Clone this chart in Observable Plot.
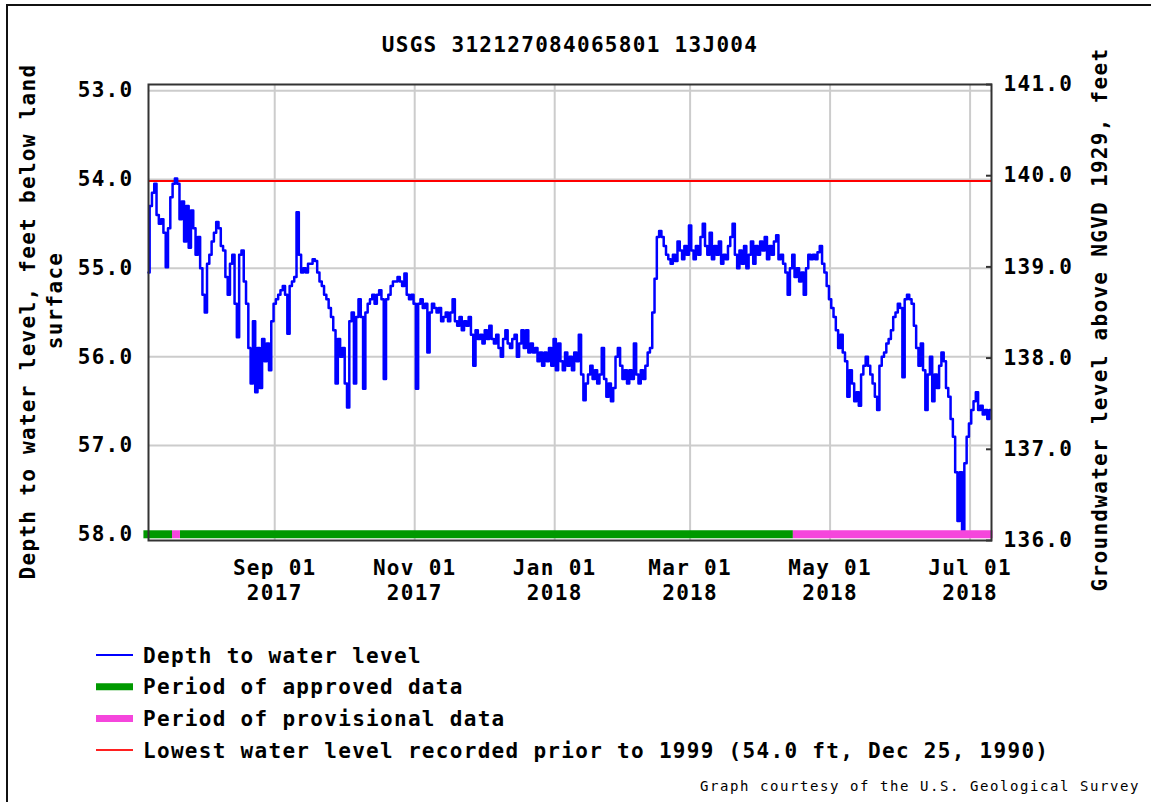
<!DOCTYPE html>
<html>
<head>
<meta charset="utf-8">
<script src="https://cdn.jsdelivr.net/npm/d3@7"></script>
<script src="https://cdn.jsdelivr.net/npm/@observablehq/plot@0.6"></script>
<style>
  html, body { margin: 0; padding: 0; background: #fff; }
  #wrap { position: relative; width: 1151px; height: 802px; overflow: hidden; background: #fff; }
  #wrap svg { display: block; position: absolute; left: 0; top: 0; }
  #border { position: absolute; left: 6px; top: 4px; right: -10px; bottom: -10px;
            border-left: 2px solid #111; border-top: 2px solid #111; pointer-events: none; }
  svg text { font-family: "DejaVu Sans Mono", monospace; }
</style>
</head>
<body>
<div id="wrap"><div id="border"></div></div>
<script>
// ---------------- DATA ----------------
const chartTitle = "USGS 312127084065801 13J004";
const leftTitle1 = "Depth to water level, feet below land";
const leftTitle2 = "surface";
const rightTitle = "Groundwater level above NGVD 1929, feet";
const caption = "Graph courtesy of the U.S. Geological Survey";

// Daily depth to water level (feet below land surface), one array per month
const jul2017 = [55.05,54.3,54.15,54.05,54.4,54.5,54.45,54.6,54.99,54.55,54.2,54.05,53.99,54.05,54.45,54.25,54.7,54.3,54.77,54.35,54.55,54.85,54.65,55.0]; // from Jul 08
const aug2017 = [55.3,55.5,54.95,54.85,54.7,54.6,54.48,54.55,54.75,54.8,55.1,55.3,54.95,54.85,55.4,55.78,54.85,54.8,55.15,55.4,55.9,56.3,55.6,56.4,55.9,56.35,55.8,56.05,55.85,56.15,55.6];
const sep2017 = [55.4,55.35,55.3,55.25,55.2,55.3,55.74,55.2,55.15,55.1,54.37,54.85,55.05,55.0,55.05,54.95,54.95,54.9,54.92,55.05,55.15,55.2,55.3,55.35,55.45,55.55,55.7,56.3,55.8,56.0];
const oct2017 = [55.9,56.3,56.57,55.6,55.5,56.3,55.55,55.35,55.55,56.36,55.5,55.4,55.35,55.3,55.4,55.3,55.25,55.35,56.25,55.35,55.3,55.2,55.15,55.15,55.1,55.15,55.2,55.06,55.3,55.35,55.3];
const nov2017 = [55.4,56.36,55.4,55.35,55.45,55.4,55.95,55.5,55.4,55.45,55.5,55.45,55.6,55.55,55.5,55.6,55.5,55.35,55.6,55.65,55.55,55.7,55.6,55.65,55.55,55.75,56.1,55.7,55.8,55.75];
const dec2017 = [55.85,55.7,55.8,55.65,55.8,55.85,55.75,55.9,56.0,55.8,55.7,55.85,55.9,55.8,55.75,56.0,55.85,55.7,55.9,55.7,55.95,55.85,55.95,55.9,56.05,55.95,56.1,55.95,56.05,55.9,56.1];
const jan2018 = [55.8,56.15,55.85,56.05,56.15,55.95,56.1,56.0,56.15,55.95,56.05,55.75,56.2,56.49,56.3,56.2,56.1,56.25,56.15,56.3,56.2,55.9,56.25,56.45,56.3,56.5,56.35,56.0,55.9,56.1,56.25];
const feb2018 = [56.15,56.3,56.15,56.25,55.85,56.2,56.3,56.15,56.25,56.1,55.95,55.9,55.5,55.12,54.65,54.58,54.65,54.75,54.85,54.9,54.95,54.85,54.92,54.7,54.8,54.9,54.75,54.85];
const mar2018 = [54.52,54.8,54.9,54.75,54.85,54.65,54.5,54.75,54.85,54.6,54.9,54.75,54.85,54.7,54.95,54.85,54.9,54.75,54.65,54.5,54.85,55.0,54.8,54.95,54.75,55.0,54.85,54.7,54.95,54.75,54.85];
const apr2018 = [54.7,54.8,54.65,54.9,54.75,54.85,54.7,54.63,54.9,54.85,54.95,55.05,55.3,55.0,54.85,55.1,55.0,55.15,55.05,55.3,55.0,54.85,54.9,54.85,54.9,54.82,54.75,54.95,55.05,55.2];
const may2018 = [55.35,55.45,55.55,55.7,55.9,55.75,55.95,56.05,56.45,56.15,56.3,56.5,56.4,56.55,56.2,56.1,56.0,56.1,56.2,56.3,56.45,56.6,56.1,56.0,55.95,55.85,55.8,55.7,55.55,55.5,55.4];
const jun2018 = [55.45,56.23,55.35,55.3,55.35,55.4,55.65,55.9,56.1,55.85,56.15,56.6,56.2,56.0,56.5,56.2,56.35,56.1,55.95,56.05,56.35,56.45,56.7,56.9,57.3,57.85,57.3,57.96,57.2,56.9];
const jul2018 = [56.75,56.6,56.5,56.4,56.6,56.55,56.65,56.6,56.7,56.6];

const monthStarts = ["2017-07-08","2017-08-01","2017-09-01","2017-10-01","2017-11-01","2017-12-01",
                     "2018-01-01","2018-02-01","2018-03-01","2018-04-01","2018-05-01","2018-06-01","2018-07-01"];
const monthValues = [jul2017,aug2017,sep2017,oct2017,nov2017,dec2017,jan2018,feb2018,mar2018,apr2018,may2018,jun2018,jul2018];

const approvedPeriods = [
  {start: "2017-07-06", end: "2017-07-18T11:00Z"},
  {start: "2017-07-21T22:00Z", end: "2018-04-15"}
];
const provisionalPeriods = [
  {start: "2017-07-18T11:00Z", end: "2017-07-21T22:00Z"},
  {start: "2018-04-15", end: "2018-07-11"}
];
const lowestPrior1999 = 54.0;

const xDomain = ["2017-07-08", "2018-07-10T08:00Z"];
const xTicks = ["2017-09-01","2017-11-01","2018-01-01","2018-03-01","2018-05-01","2018-07-01"];
const yDomain = [52.93, 58.07];
const leftTicks = [53, 54, 55, 56, 57, 58];
const rightTicks = [141, 140, 139, 138, 137, 136];

const legendItems = [
  {label: "Depth to water level", color: "#0000ff", width: 2},
  {label: "Period of approved data", color: "#009900", width: 7},
  {label: "Period of provisional data", color: "#f546dc", width: 7},
  {label: "Lowest water level recorded prior to 1999 (54.0 ft, Dec 25, 1990)", color: "#ff2020", width: 2}
];

// ---------------- BUILD ----------------
const series = monthStarts.flatMap((s, m) =>
  monthValues[m].map((v, i) => ({date: d3.utcDay.offset(new Date(s), i), depth: v})));
const toDate = p => ({start: new Date(p.start), end: new Date(p.end)});
const approved = approvedPeriods.map(toDate);
const provisional = provisionalPeriods.map(toDate);

// right axis spans the frame: top = 141, bottom = 136
const rTop = rightTicks[0], rBot = rightTicks[rightTicks.length - 1];
const rightToDepth = r => yDomain[0] + (rTop - r) * (yDomain[1] - yDomain[0]) / (rTop - rBot);
const depthToRight = d => rTop - (d - yDomain[0]) * (rTop - rBot) / (yDomain[1] - yDomain[0]);
const rightDepths = rightTicks.map(rightToDepth);
const bottomLevel = leftTicks[leftTicks.length - 1];

const legendMark = () => {
  const g = d3.create("svg:g").attr("text-anchor", "start");
  legendItems.forEach((it, i) => {
    const y = 655 + i * 31.7;
    g.append("line").attr("x1", 96).attr("x2", 133).attr("y1", y).attr("y2", y)
      .attr("stroke", it.color).attr("stroke-width", it.width);
    g.append("text").attr("x", 143).attr("y", y).attr("dy", "0.36em")
      .attr("text-anchor", "start").text(it.label);
  });
  g.append("text").attr("x", 700).attr("y", 786).attr("dy", "0.36em").attr("text-anchor", "start")
    .attr("font-size", 14).attr("font-weight", "normal").attr("letter-spacing", "1.57px")
    .text(caption);
  return g.node();
};

const chart = Plot.plot({
  width: 1151,
  height: 802,
  marginLeft: 148,
  marginRight: 160,
  marginTop: 84,
  marginBottom: 262,
  style: {fontFamily: "'DejaVu Sans Mono', monospace", fontSize: "21px", fontWeight: "bold",
          letterSpacing: "1.3px", background: "transparent", color: "#000", overflow: "visible"},
  x: {type: "utc", domain: xDomain.map(d => new Date(d)), label: null},
  y: {domain: yDomain, reverse: true, label: null},
  marks: [
    Plot.gridX(xTicks.map(d => new Date(d)), {stroke: "#cccccc", strokeOpacity: 1, strokeWidth: 2}),
    Plot.gridY(leftTicks, {stroke: "#cccccc", strokeOpacity: 1, strokeWidth: 2}),
    Plot.ruleY([lowestPrior1999], {stroke: "#ff0000", strokeWidth: 2, dy: 1.5}),
    Plot.line(series, {x: "date", y: "depth", stroke: "#0000ff", strokeWidth: 2.5, curve: "step"}),
    Plot.ruleY(approved, {y: () => bottomLevel, x1: "start", x2: "end", stroke: "#009900", strokeWidth: 8}),
    Plot.ruleY(provisional, {y: () => bottomLevel, x1: "start", x2: "end", stroke: "#f546dc", strokeWidth: 8}),
    Plot.frame({stroke: "#333", strokeWidth: 2}),
    Plot.axisY(leftTicks, {anchor: "left", tickSize: 0, tickPadding: 15, tickFormat: d3.format(".1f"), label: null}),
    Plot.axisY(rightDepths, {anchor: "right", tickSize: 6, dx: -6, tickPadding: 12, stroke: "#333", strokeWidth: 2,
                             tickFormat: d => depthToRight(d).toFixed(1), label: null}),
    Plot.axisX(xTicks.map(d => new Date(d)), {anchor: "bottom", tickSize: 0, tickPadding: 17, lineHeight: 1.19,
                             tickFormat: d3.utcFormat("%b %d\n%Y"), label: null}),
    Plot.text([chartTitle], {text: d => d, frameAnchor: "top", dy: -39, lineAnchor: "middle", textAnchor: "middle"}),
    Plot.text([leftTitle1], {text: d => d, frameAnchor: "left", dx: -120, dy: 9, rotate: -90,
                             textAnchor: "middle", lineAnchor: "middle"}),
    Plot.text([leftTitle2], {text: d => d, frameAnchor: "left", dx: -93, dy: -12, rotate: -90,
                             textAnchor: "middle", lineAnchor: "middle"}),
    Plot.text([rightTitle], {text: d => d, frameAnchor: "right", dx: 109, dy: 7, rotate: -90,
                             textAnchor: "middle", lineAnchor: "middle"}),
    legendMark
  ]
});
document.getElementById("wrap").insertBefore(chart, document.getElementById("border"));
</script>
</body>
</html>
